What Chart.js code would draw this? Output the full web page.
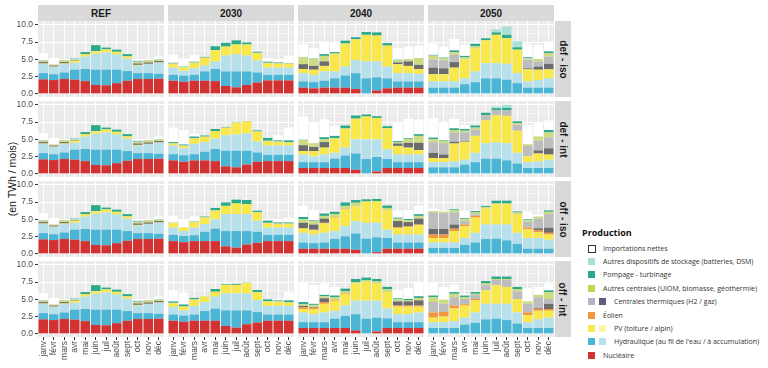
<!DOCTYPE html>
<html>
<head>
<meta charset="utf-8">
<script src="https://cdn.jsdelivr.net/npm/chart.js@4"></script>
<style>
  body { margin: 0; background: #fff; width: 768px; height: 368px; overflow: hidden; font-family: "Liberation Sans", Arial, sans-serif; }
  canvas, .strip, .lg, .ytitle { position: absolute; }
  .strip { background: #d9d9d9; color: #1a1a1a; font-weight: bold; font-size: 10px; display: flex; align-items: center; justify-content: center; }
  .strip.side span { transform: rotate(90deg); white-space: nowrap; display: block; }
  .ytitle { left: 12px; top: 179px; transform: translate(-50%, -50%) rotate(-90deg); font-size: 10.5px; color: #1a1a1a; white-space: nowrap; }
  .lg { font-family: "Open Sans", sans-serif; font-size: 7px; color: #333; white-space: nowrap; line-height: 9px; }
  .lg.title { font-size: 9px; font-weight: bold; color: #111; }
  .sw { position: absolute; width: 7px; height: 7px; }
</style>
</head>
<body>
<div class="ytitle">(en TWh / mois)</div>
<script>
const months = ['janv', 'févr', 'mars', 'avr', 'mai', 'juin', 'juil', 'août', 'sept', 'oct', 'nov', 'déc'];
const years = ['REF', '2030', '2040', '2050'];
const scenarios = ['def - iso', 'def - int', 'off - iso', 'off - int'];
const yTicks = [0, 1.25, 2.5, 3.75, 5, 6.25, 7.5, 8.75, 10];
const zero12 = [0, 0, 0, 0, 0, 0, 0, 0, 0, 0, 0, 0];

// each series: 16 panels (scenario rows, then REF / 2030 / 2040 / 2050), 12 months each
const nucleaire = [
  [2.1, 2.0, 2.15, 2.05, 1.85, 1.3, 1.25, 1.55, 1.9, 2.15, 2.15, 2.2],
  [1.9, 1.75, 1.9, 1.9, 1.85, 1.15, 0.95, 1.3, 1.65, 1.95, 1.95, 1.95],
  [0.9, 0.8, 0.9, 0.9, 0.9, 0.7, 0, 0.5, 0.8, 0.9, 0.9, 0.9],
  zero12,
  [2.1, 2.0, 2.15, 2.05, 1.85, 1.3, 1.25, 1.55, 1.9, 2.15, 2.15, 2.2],
  [1.95, 1.75, 1.95, 1.95, 1.85, 1.1, 0.95, 1.35, 1.75, 1.85, 1.85, 1.85],
  [0.85, 0.85, 0.85, 0.85, 0.85, 0.6, 0, 0.35, 0.85, 0.85, 0.85, 0.85],
  zero12,
  [2.1, 2.0, 2.15, 2.05, 1.85, 1.3, 1.25, 1.55, 1.9, 2.15, 2.15, 2.2],
  [1.85, 1.7, 1.85, 1.85, 1.85, 1.1, 0.9, 1.35, 1.6, 1.85, 1.85, 1.85],
  [0.75, 0.75, 0.75, 0.75, 0.75, 0.6, 0, 0.25, 0.75, 0.75, 0.75, 0.75],
  zero12,
  [2.1, 2.0, 2.15, 2.05, 1.85, 1.3, 1.25, 1.55, 1.9, 2.15, 2.15, 2.2],
  [1.9, 1.75, 1.9, 1.9, 1.9, 1.15, 0.9, 1.4, 1.65, 1.9, 1.9, 1.9],
  [0.85, 0.85, 0.85, 0.85, 0.85, 0.5, 0, 0.35, 0.85, 0.85, 0.85, 0.85],
  zero12
];
const hydroFil = [
  [0.9, 0.85, 0.95, 1.45, 1.75, 2.2, 2.25, 1.95, 1.4, 0.85, 0.85, 0.7],
  [0.85, 0.9, 0.85, 1.35, 1.75, 2.1, 2.3, 1.95, 1.45, 0.8, 0.8, 0.8],
  [0.9, 0.9, 1.0, 1.35, 1.75, 2.3, 2.25, 1.9, 1.45, 0.9, 0.9, 0.9],
  [0.9, 0.9, 0.9, 1.4, 1.7, 2.25, 2.25, 2.05, 1.55, 0.9, 0.9, 0.9],
  [0.9, 0.85, 0.95, 1.45, 1.75, 2.2, 2.25, 1.95, 1.4, 0.85, 0.85, 0.7],
  [0.9, 0.95, 0.9, 1.25, 1.75, 2.25, 2.4, 2.0, 1.35, 0.9, 0.9, 0.9],
  [0.85, 0.85, 0.85, 1.35, 1.8, 2.35, 2.15, 2.1, 1.3, 0.85, 0.85, 0.85],
  [0.95, 0.95, 0.95, 1.35, 1.7, 2.2, 2.2, 1.95, 1.5, 0.85, 0.85, 0.85],
  [0.9, 0.85, 0.95, 1.45, 1.75, 2.2, 2.25, 1.95, 1.4, 0.85, 0.85, 0.7],
  [0.9, 0.9, 0.85, 1.35, 1.8, 2.2, 2.4, 1.95, 1.6, 0.9, 0.9, 0.9],
  [0.9, 0.8, 0.9, 1.4, 1.8, 2.35, 2.2, 2.15, 1.55, 0.9, 0.9, 0.9],
  [0.85, 0.85, 0.85, 1.3, 1.65, 2.15, 2.2, 1.95, 1.45, 0.75, 0.75, 0.75],
  [0.9, 0.85, 0.95, 1.45, 1.75, 2.2, 2.25, 1.95, 1.4, 0.85, 0.85, 0.7],
  [0.9, 0.9, 0.9, 1.4, 1.75, 2.25, 2.5, 2.0, 1.5, 0.9, 0.9, 0.9],
  [0.85, 0.85, 0.85, 1.35, 1.75, 2.35, 2.2, 2.0, 1.4, 0.85, 0.85, 0.85],
  [0.85, 0.85, 0.85, 1.35, 1.6, 2.1, 2.2, 2.0, 1.5, 0.85, 0.85, 0.85]
];
const hydroAcc = [
  [1.35, 1.05, 1.2, 1.0, 1.8, 2.3, 2.5, 2.2, 1.8, 1.1, 1.3, 1.6],
  [1.05, 0.7, 0.95, 0.85, 1.1, 2.3, 2.5, 2.3, 1.75, 1.05, 1.05, 1.05],
  [1.2, 1.05, 1.35, 1.0, 1.3, 1.9, 2.45, 2.3, 1.7, 1.2, 1.2, 1.1],
  [0.9, 0.9, 0.9, 0.85, 1.55, 2.2, 2.2, 2.3, 1.45, 0.9, 1.1, 1.35],
  [1.35, 1.05, 1.2, 1.0, 1.8, 2.3, 2.5, 2.2, 1.8, 1.1, 1.3, 1.6],
  [1.25, 1.0, 1.5, 1.4, 1.5, 2.25, 2.35, 2.5, 1.6, 1.35, 1.35, 1.35],
  [1.1, 0.85, 1.1, 0.85, 1.15, 2.05, 2.85, 2.55, 1.4, 1.1, 1.1, 1.1],
  [0.75, 0.75, 0.85, 0.7, 1.35, 2.25, 2.35, 2.5, 1.55, 0.85, 0.95, 1.2],
  [1.35, 1.05, 1.2, 1.0, 1.8, 2.3, 2.5, 2.2, 1.8, 1.1, 1.3, 1.6],
  [1.05, 0.7, 1.1, 1.1, 1.35, 2.45, 2.45, 2.45, 1.6, 1.05, 1.05, 1.05],
  [1.4, 1.25, 1.4, 1.15, 1.45, 1.8, 2.3, 2.1, 1.2, 1.15, 1.15, 1.15],
  [0.8, 0.8, 0.8, 1.0, 1.4, 2.1, 2.05, 2.3, 1.6, 1.55, 1.55, 1.3],
  [1.35, 1.05, 1.2, 1.0, 1.8, 2.3, 2.5, 2.2, 1.8, 1.1, 1.3, 1.6],
  [1.1, 0.75, 1.25, 1.3, 1.75, 2.45, 2.45, 2.45, 1.75, 1.25, 1.25, 1.25],
  [1.4, 1.15, 1.4, 1.15, 1.5, 1.95, 2.6, 2.45, 1.45, 1.15, 1.15, 1.4],
  [0.85, 0.85, 1.0, 1.0, 1.5, 2.25, 2.15, 2.35, 1.6, 0.85, 1.25, 1.5]
];
const pv = [
  [0.05, 0.05, 0.1, 0.25, 0.3, 0.35, 0.4, 0.35, 0.3, 0.1, 0.05, 0.05],
  [0.5, 0.45, 0.75, 1.1, 1.6, 1.3, 1.4, 1.6, 1.05, 0.6, 0.55, 0.5],
  [0.6, 0.75, 0.8, 2.5, 3.3, 3.0, 3.85, 3.75, 3.0, 1.3, 1.05, 0.7],
  [1.05, 1.05, 2.0, 2.75, 3.35, 3.3, 4.1, 3.7, 3.4, 1.75, 1.5, 1.3],
  [0.05, 0.05, 0.1, 0.25, 0.3, 0.35, 0.4, 0.35, 0.3, 0.1, 0.05, 0.05],
  [0.25, 0.3, 0.75, 0.75, 1.1, 1.1, 1.7, 1.75, 1.4, 0.6, 0.5, 0.4],
  [0.5, 0.75, 1.0, 2.05, 2.7, 3.0, 3.3, 3.1, 3.05, 1.25, 1.0, 0.65],
  [0.6, 0.6, 2.6, 2.6, 2.45, 3.3, 3.95, 3.95, 3.2, 0.85, 1.15, 0.75],
  [0.05, 0.05, 0.1, 0.25, 0.3, 0.35, 0.4, 0.35, 0.3, 0.1, 0.05, 0.05],
  [0.65, 0.5, 0.75, 0.95, 1.25, 1.2, 1.55, 1.45, 1.2, 0.6, 0.5, 0.5],
  [0.6, 0.6, 1.35, 1.95, 2.45, 2.1, 3.05, 3.1, 2.8, 0.95, 1.1, 1.35],
  [0.65, 0.65, 1.65, 1.7, 2.2, 2.3, 2.95, 2.95, 2.7, 1.25, 0.85, 0.75],
  [0.05, 0.05, 0.1, 0.25, 0.3, 0.35, 0.4, 0.35, 0.3, 0.1, 0.05, 0.05],
  [0.5, 0.5, 0.85, 0.8, 0.7, 1.25, 1.25, 1.5, 1.1, 0.6, 0.6, 0.45],
  [0.5, 0.75, 1.25, 1.45, 1.7, 2.5, 2.75, 2.5, 2.35, 1.1, 1.1, 0.85],
  [0.65, 0.8, 1.85, 1.75, 1.75, 1.95, 2.7, 2.45, 1.95, 1.0, 1.25, 1.0]
];
const eolien = [
  zero12, zero12, zero12, zero12,
  zero12, zero12, zero12, zero12,
  zero12, zero12,
  [0.1, 0.1, 0.1, 0.1, 0.1, 0, 0, 0, 0, 0.1, 0.1, 0.1],
  [0.5, 0.5, 0.35, 0.25, 0.25, 0, 0, 0, 0, 0.25, 0.25, 0.25],
  zero12, zero12,
  [0.25, 0.2, 0.25, 0.15, 0.1, 0, 0, 0, 0, 0.15, 0.15, 0.15],
  [0.75, 0.7, 0.4, 0.2, 0.2, 0, 0, 0, 0, 0.4, 0.25, 0.25]
];
const gaz = [
  [0.2, 0.15, 0.2, 0.05, 0, 0, 0, 0, 0, 0.2, 0.2, 0.2],
  zero12,
  [0.7, 0.55, 0.65, 0, 0, 0, 0, 0, 0, 0.25, 0.65, 0.6],
  [0.95, 0.85, 0.8, 0, 0, 0, 0, 0, 0, 0.15, 0.45, 0.8],
  [0.2, 0.15, 0.2, 0.05, 0, 0, 0, 0, 0, 0.2, 0.2, 0.2],
  zero12,
  [0.85, 0.6, 0.8, 0, 0, 0, 0, 0, 0, 0.35, 0.7, 1.05],
  [0.75, 0.5, 0.25, 0.1, 0, 0, 0, 0, 0, 0, 0.45, 0.9],
  [0.2, 0.15, 0.2, 0.05, 0, 0, 0, 0, 0, 0.2, 0.2, 0.2],
  zero12,
  [0.75, 0.75, 0.6, 0, 0, 0, 0, 0, 0, 0.9, 0.6, 0.85],
  [0.8, 0.8, 0.6, 0, 0, 0, 0, 0, 0, 0, 0.3, 0.75],
  [0.2, 0.15, 0.2, 0.05, 0, 0, 0, 0, 0, 0.2, 0.2, 0.2],
  zero12,
  [0.2, 0.1, 0.55, 0, 0, 0, 0, 0, 0, 0.6, 0.6, 0.75],
  [0, 0, 0, 0, 0, 0, 0, 0, 0, 0, 0.1, 0.75]
];
const hydrogene = [
  zero12, zero12, zero12,
  [1.2, 1.15, 1.05, 0, 0, 0, 0, 0, 0, 1.25, 0.75, 1.05],
  zero12, zero12, zero12,
  [1.55, 1.65, 1.35, 1.25, 0.9, 0.75, 0.7, 0.8, 0.85, 1.5, 1.4, 1.55],
  zero12, zero12, zero12,
  [2.4, 2.25, 1.75, 0.5, 0.25, 0, 0, 0, 0, 0.85, 1.4, 1.95],
  zero12, zero12, zero12,
  [1.5, 1.15, 1.2, 0.75, 0.6, 0.75, 0.75, 1.0, 1.1, 1.25, 1.6, 0.7]
];
const autres = [
  [0.2, 0.15, 0.25, 0.2, 0.05, 0.05, 0.05, 0.05, 0.05, 0.2, 0.3, 0.2],
  [0.1, 0.1, 0.1, 0.05, 0.05, 0, 0, 0, 0.05, 0.1, 0.1, 0.1],
  [1.0, 1.0, 0.8, 0.1, 0.05, 0, 0, 0, 0.05, 0.3, 0.35, 0.95],
  [0.55, 0.3, 0.4, 0.3, 0.3, 0, 0, 0, 0, 0.2, 0.35, 0.5],
  [0.2, 0.15, 0.25, 0.2, 0.05, 0.05, 0.05, 0.05, 0.05, 0.2, 0.3, 0.2],
  [0.1, 0.1, 0.1, 0.05, 0, 0, 0, 0, 0.05, 0.1, 0.1, 0.1],
  [0.75, 0.55, 0.4, 0.1, 0.1, 0, 0, 0, 0, 0.2, 0.55, 1.0],
  [0.4, 0.35, 0.35, 0.25, 0.3, 0, 0, 0, 0.25, 0.25, 0.6, 0.75],
  [0.2, 0.15, 0.25, 0.2, 0.05, 0.05, 0.05, 0.05, 0.05, 0.2, 0.3, 0.2],
  [0.1, 0.05, 0.1, 0.05, 0.05, 0, 0, 0, 0.05, 0.1, 0.1, 0.1],
  [0.5, 0.5, 0.4, 0.4, 0.4, 0.55, 0.05, 0.05, 0.35, 0.35, 0.3, 0.4],
  [0.2, 0.25, 0.3, 0.25, 0.25, 0.25, 0.1, 0.1, 0.25, 0.25, 0.3, 0.35],
  [0.2, 0.15, 0.25, 0.2, 0.05, 0.05, 0.05, 0.05, 0.05, 0.2, 0.3, 0.2],
  [0.1, 0.1, 0.1, 0.05, 0, 0, 0, 0, 0.05, 0.1, 0.1, 0.1],
  [0.25, 0.3, 0.3, 0.35, 0.25, 0.2, 0.2, 0.3, 0.4, 0.3, 0.2, 0.35],
  [0.7, 0.6, 0.5, 0.25, 0.15, 0.25, 0.15, 0.15, 0.35, 0.35, 0.35, 1.0]
];
const pompage = [
  [0.05, 0, 0.05, 0.1, 0.3, 0.85, 0.25, 0.3, 0.3, 0.1, 0.05, 0.05],
  [0.1, 0.05, 0.1, 0.1, 0.55, 0.55, 0.6, 0.3, 0.15, 0.15, 0.1, 0.05],
  [0.05, 0.05, 0.25, 0.2, 0.4, 0.3, 0.4, 0.45, 0.35, 0.1, 0, 0.05],
  [0.1, 0.1, 0.25, 0.2, 0.35, 0.3, 0.35, 0.5, 0.35, 0.15, 0, 0.25],
  [0.05, 0, 0.05, 0.1, 0.3, 0.85, 0.25, 0.3, 0.3, 0.1, 0.05, 0.05],
  [0.15, 0.15, 0.2, 0.15, 0.3, 0.1, 0.05, 0.05, 0.15, 0.4, 0.15, 0.25],
  [0.05, 0, 0.3, 0.3, 0.4, 0.45, 0.3, 0.25, 0.3, 0.15, 0.1, 0.25],
  [0.25, 0.1, 0.25, 0.25, 0.3, 0.35, 0.3, 0.35, 0.25, 0, 0, 0.35],
  [0.05, 0, 0.05, 0.1, 0.3, 0.85, 0.25, 0.3, 0.3, 0.1, 0.05, 0.05],
  [0, 0, 0.05, 0.1, 0.35, 0.5, 0.55, 0.6, 0.2, 0.3, 0.15, 0.15],
  [0.35, 0.1, 0.35, 0.35, 0.5, 0.4, 0.3, 0.3, 0.35, 0.15, 0.15, 0.25],
  [0, 0, 0.15, 0.15, 0.2, 0.15, 0.4, 0.4, 0.15, 0.1, 0, 0.2],
  [0.05, 0, 0.05, 0.1, 0.3, 0.85, 0.25, 0.3, 0.3, 0.1, 0.05, 0.05],
  [0.2, 0.25, 0.2, 0, 0.4, 0.1, 0.15, 0.05, 0.3, 0.25, 0.1, 0.25],
  [0.3, 0.15, 0.2, 0.25, 0.4, 0.45, 0.4, 0.35, 0.35, 0.15, 0.15, 0.25],
  [0.25, 0, 0.25, 0.25, 0.25, 0.35, 0.35, 0.35, 0.3, 0, 0, 0.25]
];
const stockage = [
  zero12, zero12, zero12,
  [0, 0, 0, 0, 0, 0, 0.45, 1.2, 0.85, 0, 0, 0],
  zero12, zero12, zero12,
  [0, 0, 0, 0, 0, 0, 0.25, 0.45, 0, 0, 0, 0],
  zero12, zero12, zero12, zero12,
  zero12, zero12, zero12, zero12
];
const importations = [
  [1.05, 0.95, 0, 0, 0, 0, 0, 0, 0, 0.05, 0.05, 0.4],
  [1.2, 1.15, 1.0, 0, 0, 0, 0, 0, 0, 0.5, 0.5, 1.1],
  [1.85, 1.5, 1.85, 1.4, 0, 0, 0, 0, 0, 1.65, 1.8, 1.75],
  [1.6, 1.6, 1.65, 1.6, 0, 0, 0, 0, 0, 1.95, 2.05, 1.45],
  [1.05, 0.95, 0, 0, 0, 0, 0, 0, 0, 0.05, 0.05, 0.4],
  [2.1, 2.1, 0.45, 0, 0, 0, 0, 0, 0, 0, 0.75, 1.85],
  [3.35, 2.9, 2.6, 1.4, 0, 0, 0, 0, 0, 2.75, 2.85, 2.1],
  [2.85, 2.45, 1.4, 0.6, 0, 0, 0, 0, 0, 2.8, 2.1, 1.4],
  [1.05, 0.95, 0, 0, 0, 0, 0, 0, 0, 0.05, 0.05, 0.4],
  [0.95, 1.15, 0.7, 0, 0, 0, 0, 0, 0, 0, 0.35, 0.7],
  [1.6, 1.5, 0.25, 0, 0, 0, 0, 0, 0, 0.95, 1.3, 1.2],
  [0.35, 0.1, 0, 1.05, 0, 0, 0, 0, 0, 1.1, 0.35, 0],
  [1.05, 0.95, 0, 0, 0, 0, 0, 0, 0, 0.05, 0.05, 0.4],
  [1.55, 1.75, 0, 0, 0, 0, 0, 0, 0, 0, 0.15, 1.25],
  [2.95, 2.7, 1.65, 1.25, 0, 0, 0, 0, 0, 1.15, 1.6, 2.1],
  [1.85, 1.85, 1.1, 0.25, 0, 0, 0, 0, 0, 1.95, 1.15, 1.0]
];

// stacking order, bottom to top
const series = [
  { label: 'Nucléaire', data: nucleaire, color: '#d23232' },
  { label: "Hydraulique (au fil de l'eau)", data: hydroFil, color: '#4bb5d5' },
  { label: 'Hydraulique (à accumulation)', data: hydroAcc, color: '#b5e0ec' },
  { label: 'PV', data: pv, color: '#f8e84c' },
  { label: 'Éolien', data: eolien, color: '#f2973b' },
  { label: 'Centrales thermiques (gaz)', data: gaz, color: '#6c6c6c' },
  { label: 'Centrales thermiques (H2)', data: hydrogene, color: '#bdbdbd' },
  { label: 'Autres centrales', data: autres, color: '#cddc80' },
  { label: 'Pompage - turbinage', data: pompage, color: '#2aa98b' },
  { label: 'Autres dispositifs de stockage', data: stockage, color: '#a8e1d5' },
  { label: 'Importations nettes', data: importations, color: '#ffffff' }
];

const colLeft = [38, 168, 298, 428];
const rowTop = [21, 101, 181, 261];
const panelW = 126, panelH = 76;

const panelBg = {
  id: 'panelBg',
  beforeDraw(chart) {
    const a = chart.chartArea, ctx = chart.ctx;
    ctx.save();
    ctx.fillStyle = '#ebebeb';
    ctx.fillRect(a.left, a.top, a.right - a.left, a.bottom - a.top);
    ctx.restore();
  }
};

function addDiv(cls, left, top, w, h, html) {
  const d = document.createElement('div');
  d.className = cls;
  d.style.left = left + 'px';
  d.style.top = top + 'px';
  if (w) d.style.width = w + 'px';
  if (h) d.style.height = h + 'px';
  d.innerHTML = html;
  document.body.appendChild(d);
  return d;
}

years.forEach((y, c) => addDiv('strip', colLeft[c], 5, panelW, 16, y));
scenarios.forEach((s, r) => addDiv('strip side', 555, rowTop[r], 16, panelH, '<span>' + s + '</span>'));

const isMajor = v => Math.abs(v / 2.5 - Math.round(v / 2.5)) < 1e-6;

for (let r = 0; r < 4; r++) {
  for (let c = 0; c < 4; c++) {
    const p = r * 4 + c;
    const leftExtra = c === 0 ? 38 : 0;
    const bottomExtra = r === 3 ? 30 : 0;
    const cv = document.createElement('canvas');
    cv.width = panelW + leftExtra;
    cv.height = panelH + bottomExtra;
    cv.style.left = (colLeft[c] - leftExtra) + 'px';
    cv.style.top = rowTop[r] + 'px';
    document.body.appendChild(cv);

    new Chart(cv.getContext('2d'), {
      type: 'bar',
      data: {
        labels: months,
        datasets: series.map(s => ({
          label: s.label,
          data: s.data[p],
          backgroundColor: s.color,
          borderWidth: 0,
          barPercentage: 0.9,
          categoryPercentage: 1.0
        }))
      },
      options: {
        responsive: false,
        animation: false,
        devicePixelRatio: 1,
        layout: { padding: 0 },
        plugins: { legend: { display: false }, tooltip: { enabled: false } },
        scales: {
          x: {
            stacked: true,
            border: { display: false },
            grid: { color: '#ffffff', lineWidth: 1, offset: false, drawTicks: r === 3, tickLength: 3, tickColor: '#333333', tickWidth: 1 },
            ticks: {
              display: r === 3, autoSkip: false, minRotation: 90, maxRotation: 90, padding: 1,
              color: '#4d4d4d', font: { size: 8.5, family: 'Liberation Sans, Arial, sans-serif' }
            },
            afterFit: s => { s.height = bottomExtra; s.paddingLeft = 0; s.paddingRight = 0; }
          },
          y: {
            stacked: true,
            min: -0.45,
            max: 10.55,
            border: { display: false },
            afterBuildTicks: s => { s.ticks = yTicks.map(v => ({ value: v })); },
            grid: {
              color: '#ffffff',
              lineWidth: ctx => (ctx.tick && isMajor(ctx.tick.value)) ? 1 : 0.5,
              drawTicks: c === 0,
              tickLength: 3,
              tickWidth: 1,
              tickColor: ctx => (ctx.tick && isMajor(ctx.tick.value)) ? '#333333' : 'rgba(0,0,0,0)'
            },
            ticks: {
              display: c === 0, padding: 2, color: '#4d4d4d',
              font: { size: 8.5, family: 'Liberation Sans, Arial, sans-serif' },
              callback: v => isMajor(v) ? v.toFixed(1) : ''
            },
            afterFit: s => { s.width = leftExtra; s.paddingTop = 0; s.paddingBottom = 0; }
          }
        }
      },
      plugins: [panelBg]
    });
  }
}

// legend (HTML)
const legendItems = [
  { text: 'Importations nettes', colors: ['#ffffff'] },
  { text: 'Autres dispositifs de stockage (batteries, DSM)', colors: ['#a8e1d5'] },
  { text: 'Pompage - turbinage', colors: ['#2aa98b'] },
  { text: 'Autres centrales (UIOM, biomasse, géothermie)', colors: ['#c2d64e'] },
  { text: 'Centrales thermiques (H2 / gaz)', colors: ['#b5b3c3', '#5f5d7a'] },
  { text: 'Éolien', colors: ['#f2973b'] },
  { text: 'PV (toiture / alpin)', colors: ['#f8e84c', '#fbf5a8'] },
  { text: "Hydraulique (au fil de l'eau / à accumulation)", colors: ['#4bb5d5', '#b5e0ec'] },
  { text: 'Nucléaire', colors: ['#d23232'] }
];
addDiv('lg title', 582, 228, 0, 0, 'Production');
legendItems.forEach((it, i) => {
  const yc = 248 + i * 13.4;
  it.colors.forEach((col, k) => {
    const sw = addDiv('sw', 588 + k * 10.5, yc - 3.5, 0, 0, '');
    sw.style.background = col;
    if (col === '#ffffff') { sw.style.border = '1px solid #333'; sw.style.width = '6px'; sw.style.height = '6px'; }
  });
  addDiv('lg', it.colors.length > 1 ? 614 : 603, yc - 4.5, 0, 0, it.text);
});
</script>
</body>
</html>
